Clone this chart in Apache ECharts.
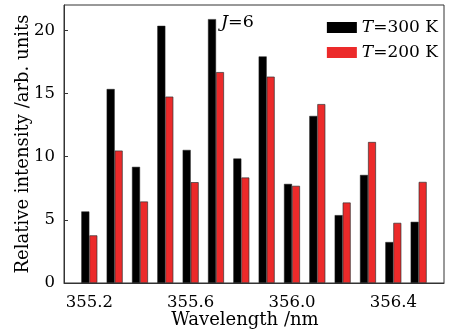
<!DOCTYPE html>
<html>
<head>
<meta charset="utf-8">
<script src="https://cdn.jsdelivr.net/npm/echarts@6/dist/echarts.min.js"></script>
<style>
  html, body { margin: 0; padding: 0; background: #fff; }
  #chart { width: 458px; height: 336px; }
</style>
</head>
<body>
<div id="chart"></div>
<script>
// wavelength of each line (nm)
const wavelengths = [355.2, 355.3, 355.4, 355.5, 355.6, 355.7, 355.8, 355.9, 356.0, 356.1, 356.2, 356.3, 356.4, 356.5];
const intensity300 = [5.66, 15.35, 9.19, 20.35, 10.53, 20.88, 9.85, 17.93, 7.84, 13.22, 5.37, 8.55, 3.24, 4.84];
const intensity200 = [3.77, 10.48, 6.45, 14.75, 7.98, 16.69, 8.35, 16.33, 7.69, 14.16, 6.37, 11.16, 4.76, 8.0];
const xTickLabels = [355.2, 355.6, 356.0, 356.4];
const seriesNames = ['T=300 K', 'T=200 K'];

const FONT = 'DejaVu Serif';
const chart = echarts.init(document.getElementById('chart'));

// italic variable + upright rest
const richText = size => ({
  it: { fontFamily: FONT, fontStyle: 'italic', fontSize: size, color: '#000' },
  n: { fontFamily: FONT, fontSize: size, color: '#000' },
});

chart.setOption({
  animation: false,
  backgroundColor: '#fff',
  grid: {
    left: 64, right: 14, top: 5, bottom: 53,
    containLabel: false,
    outerBoundsMode: 'none',
    show: true, borderColor: '#333', borderWidth: 1,
  },
  legend: {
    data: seriesNames,
    orient: 'vertical',
    right: 20,
    top: 19,
    padding: 0,
    itemWidth: 30,
    itemHeight: 11,
    itemGap: 8,
    icon: 'rect',
    itemStyle: { borderWidth: 0 },
    textStyle: { fontFamily: FONT, fontSize: 17, color: '#000', padding: [0, 0, 0, 0], rich: richText(17) },
    formatter: name => '{it|T}{n|' + name.slice(1) + '}',
  },
  xAxis: {
    type: 'value',
    min: 355.1,
    max: 356.6,
    name: 'Wavelength /nm',
    nameLocation: 'middle',
    nameGap: 28,
    nameMoveOverlap: false,
    nameTextStyle: { fontFamily: FONT, fontSize: 18, color: '#000', padding: [0, 18, 0, 0] },
    axisLine: { lineStyle: { color: '#333' } },
    axisTick: { show: false },
    splitLine: { show: false },
    axisLabel: {
      customValues: xTickLabels,
      formatter: v => v.toFixed(1),
      fontFamily: FONT, fontSize: 16.5, color: '#000', margin: 11,
    },
  },
  yAxis: {
    type: 'value',
    min: 0,
    max: 22,
    interval: 5,
    name: 'Relative intensity /arb. units',
    nameLocation: 'middle',
    nameGap: 32,
    nameMoveOverlap: false,
    nameTextStyle: { fontFamily: FONT, fontSize: 18, color: '#000' },
    axisLine: { show: true, lineStyle: { color: '#333' } },
    axisTick: { show: true, inside: true, length: 4, lineStyle: { color: '#333' } },
    splitLine: { show: false },
    axisLabel: { fontFamily: FONT, fontSize: 16.5, color: '#000', margin: 9, showMaxLabel: false },
  },
  graphic: [{
    type: 'text',
    left: 221,
    top: 13,
    style: {
      text: '{it|J}{n|=6}',
      rich: richText(17.5),
    },
  }],
  series: [
    {
      name: seriesNames[0],
      type: 'bar',
      barWidth: 8,
      barGap: '0%',
      data: wavelengths.map((w, i) => [w, intensity300[i]]),
      itemStyle: { color: '#000', borderColor: '#222', borderWidth: 0.5 },
    },
    {
      name: seriesNames[1],
      type: 'bar',
      barWidth: 8,
      barGap: '0%',
      data: wavelengths.map((w, i) => [w, intensity200[i]]),
      itemStyle: { color: '#ec2a2a', borderColor: '#333', borderWidth: 0.7 },
    },
  ],
});
</script>
</body>
</html>
